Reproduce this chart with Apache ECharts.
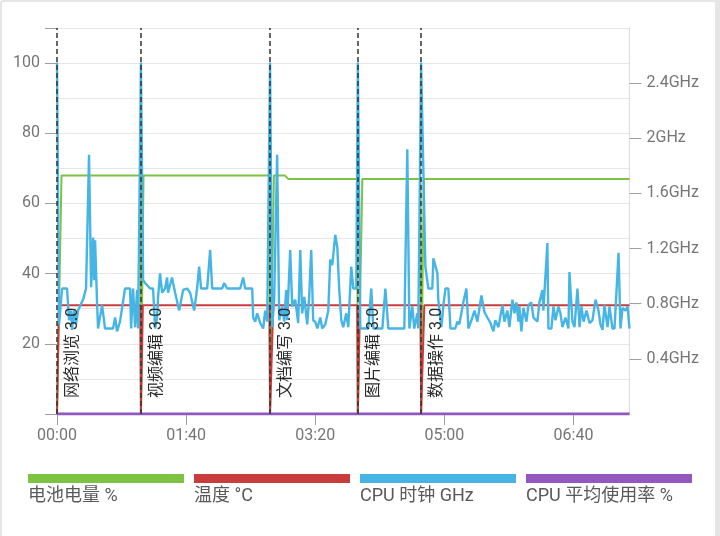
<!DOCTYPE html>
<html><head><meta charset="utf-8">
<script src="https://cdn.jsdelivr.net/npm/echarts@6/dist/echarts.min.js"></script>
<style>
html,body{margin:0;padding:0;background:#fff}
#c{position:absolute;left:0;top:0;width:720px;height:536px}
#f{position:absolute;left:0;top:0;width:720px;height:536px;box-sizing:border-box;border-left:2px solid #e6e6e6;border-top:2px solid #e6e6e6;border-right:5px solid #e6e6e6;border-top-left-radius:4px;pointer-events:none}
</style></head><body><div id="c"></div><div id="f"></div>
<script>
// ---- data ----
const seriesNames = ['电池电量 %', '温度 °C', 'CPU 时钟 GHz', 'CPU 平均使用率 %'];
const testNames = ['网络浏览', '视频编辑', '文档编写', '图片编辑', '数据操作'];
const testVersion = '3.0';
const testStarts = [0, 65, 165, 233, 282];
const xTickLabels = ['00:00', '01:40', '03:20', '05:00', '06:40'];
const leftTickLabels = [20, 40, 60, 80, 100];
const rightTickLabels = ['0.4GHz', '0.8GHz', '1.2GHz', '1.6GHz', '2GHz', '2.4GHz'];

const battery = [[0,0],[3.5,68],[64.5,68],[65,0],[67,68],[164.5,68],[165,0],[168,68],[176.5,68],[179,67],
  [232.5,67],[233,0],[236.5,67],[281.5,67],[282,0],[284,67],[443.4,67]];
const temperature = [[0,0],[1.5,31],[64.5,31],[65,0],[66.5,31],[164.5,31],[165,0],[167.5,31],
  [232.5,31],[233,0],[234.5,31],[281.5,31],[282,0],[284.5,31],[443.4,31]];
const cpuUsage = [[0,0],[443.4,0]];
const cpuClock = [
  [0,2.55],[1.6,0.65],[3.9,0.91],[7.8,0.91],[9.3,0.68],[10.9,0.75],[11.6,0.61],[13.2,0.75],[14.7,0.65],[16.3,0.75],
  [17.8,0.75],[20.2,0.83],[22.5,0.91],[24.8,1.88],[26.4,0.92],[27.9,1.28],[28.7,0.97],[29.5,1.26],[31,0.81],[31.8,0.62],
  [34.9,0.79],[37.2,0.62],[43.4,0.62],[45,0.70],[46.5,0.6],[48.8,0.67],[52.7,0.91],[56.6,0.91],[57.4,0.62],[58.9,0.91],
  [60.5,0.63],[62,0.9],[62.8,0.62],[64,0.62],
  [65,2.55],
  [66.7,0.97],[68.2,0.95],[72.1,0.91],[74.4,0.91],[76,0.62],[77.5,0.70],[78.3,0.85],[79.8,1.02],[81.4,0.88],[82.9,0.88],
  [83.7,0.91],[85.3,0.99],[86,0.88],[89.1,0.99],[89.9,0.95],[91.5,0.88],[94.6,0.75],[97.7,0.90],[100.8,0.91],[103.1,0.88],
  [106.2,0.75],[108.5,0.91],[110.1,1.07],[111.6,0.91],[116.3,0.91],[118.6,1.19],[120.2,0.91],[127.9,0.91],[129.5,0.95],
  [131.8,0.91],[141.9,0.91],[144.2,0.99],[145.7,0.91],[151.2,0.91],[151.9,0.70],[153.5,0.67],[155,0.73],[157.4,0.66],
  [159.7,0.62],[161.2,0.75],[162.8,0.67],
  [165,2.55],
  [166.7,0.63],[168.2,0.83],[170.5,1.88],[172.1,0.68],[174.4,0.78],[176,0.67],[177.5,0.90],[178.3,0.68],[180.6,1.19],
  [182.2,0.78],[184.5,0.83],[186.8,0.66],[188.4,1.19],[189.9,0.73],[191.5,0.85],[193.8,0.65],[195.3,0.85],[196.9,1.19],
  [198.4,0.68],[200,0.67],[201.6,0.62],[203.9,0.70],[205.4,0.62],[207.8,0.65],[210.1,0.75],[211.6,1.12],[213.2,1.08],
  [215.5,1.30],[217.1,1.21],[218.6,0.90],[220.2,0.68],[221.7,0.63],[224,0.73],[225.6,0.63],[227.9,1.07],[229.5,0.91],
  [231.8,0.91],
  [233,2.55],
  [234.9,0.62],[241.1,0.62],[243.4,0.91],[245,0.62],[252,0.62],[254.3,0.91],[256.6,0.62],[269,0.62],[271.3,1.92],
  [272.9,0.62],[275.2,0.78],[276.7,0.62],[279.1,0.73],[279.8,0.62],
  [282,2.55],[283.5,2.55],
  [285.3,1.07],[287.6,0.91],[290.7,0.91],[291.5,1.13],[294.6,1.02],[295.3,0.83],[297.7,0.63],[299.2,0.78],[300.8,0.91],
  [303.1,0.91],[304.7,0.62],[308.5,0.62],[310.1,0.67],[311.6,0.65],[314.7,0.81],[317.1,0.91],[318.6,0.62],[321.7,0.70],
  [323.3,0.75],[325.6,0.67],[328.7,0.86],[331,0.74],[333.3,0.70],[335.7,0.66],[338,0.60],[339.5,0.68],[341.9,0.63],
  [345,0.79],[346.5,0.67],[348.8,0.75],[350.4,0.63],[352.7,0.83],[354.3,0.73],[355.8,0.81],[357.4,0.67],[358.1,0.78],
  [359.7,0.60],[361.2,0.77],[363.6,0.67],[365.1,0.79],[367.4,0.81],[369,0.70],[372.1,0.67],[373.6,0.81],[376,0.90],
  [376.7,0.75],[379.8,1.24],[380.6,0.62],[382.9,0.62],[384.5,0.78],[386,0.68],[388.4,0.78],[389.9,0.73],[391.5,0.63],
  [393.8,0.70],[396.1,0.62],[396.9,1.03],[399.2,0.67],[400.8,0.63],[403.1,0.91],[404.7,0.63],[406.2,0.78],[407.8,0.67],
  [410.1,0.75],[412.4,0.66],[414.7,0.68],[417.1,0.83],[419.4,0.75],[420.9,0.65],[422.5,0.61],[424,0.79],[426.4,0.63],
  [427.9,0.78],[430.2,0.62],[431.8,0.62],[434.9,1.17],[436.4,0.62],[438,0.77],[440.3,0.75],[441.9,0.78],[443.4,0.62]
];

// ---- styling / layout ----
const FONT = 'Roboto, "Noto Sans CJK SC", sans-serif';
const colors = ['#7cc243', '#c93c3c', '#46b5e6', '#9357c0'];
const labelColor = '#757575';
const barLeft = [28, 194, 360, 526];
const barWidth = [156, 156, 156, 166];

const legends = [];
seriesNames.forEach((n, i) => {
  legends.push({
    data: [n], left: barLeft[i], top: 474, padding: 0, icon: 'rect',
    itemWidth: barWidth[i], itemHeight: 9, itemStyle: { borderWidth: 0 },
    formatter: () => '', textStyle: { fontSize: 1 }
  });
  legends.push({
    data: [n], left: barLeft[i] - 6, top: 488, padding: 0, icon: 'rect',
    itemWidth: 1, itemHeight: 1, itemStyle: { opacity: 0, borderWidth: 0 },
    textStyle: { fontSize: 18, color: '#595959', fontFamily: FONT }
  });
});

const chart = echarts.init(document.getElementById('c'), null, { renderer: 'canvas' });
chart.setOption({
  animation: false,
  backgroundColor: '#fff',
  textStyle: { fontFamily: FONT },
  color: colors,
  grid: { left: 57, right: 90.5, top: 28, bottom: 122, containLabel: false },
  legend: legends,
  xAxis: {
    type: 'value', min: 0, max: 443.4, interval: 100,
    axisLine: { show: true, lineStyle: { color: '#dddddd' } },
    axisTick: { show: true, length: 11, lineStyle: { color: '#a0a0a0' } },
    splitLine: { show: false },
    axisLabel: {
      showMaxLabel: false, color: labelColor, fontSize: 16, margin: 14, fontFamily: FONT,
      formatter: v => (v % 100 === 0 ? xTickLabels[v / 100] || '' : '')
    }
  },
  yAxis: [
    {
      type: 'value', position: 'left', min: 0, max: 110, interval: 10,
      axisLine: { show: false }, axisTick: { show: false },
      splitLine: { show: true, lineStyle: { color: '#e6e6e6', width: 1 } },
      axisLabel: {
        color: labelColor, fontSize: 16, margin: 17, fontFamily: FONT,
        formatter: v => (leftTickLabels.indexOf(v) >= 0 ? String(v) : '')
      }
    },
    {
      type: 'value', position: 'right', min: 0, max: 2.8, interval: 0.4,
      axisLine: { show: true, lineStyle: { color: '#dddddd' } },
      axisTick: { show: true, length: 12, lineStyle: { color: '#a0a0a0' } },
      splitLine: { show: false },
      axisLabel: {
        showMinLabel: false, showMaxLabel: false, color: labelColor, fontSize: 16, margin: 17, fontFamily: FONT,
        formatter: v => rightTickLabels[Math.round(v / 0.4) - 1] || ''
      }
    },
    {
      type: 'value', position: 'left', min: 0, max: 110, interval: 20,
      axisLine: { show: false },
      axisTick: { show: true, length: 12, lineStyle: { color: '#a0a0a0' } },
      axisLabel: { show: false }, splitLine: { show: false }
    }
  ],
  series: [
    {
      name: seriesNames[0], type: 'line', yAxisIndex: 0, data: battery, symbol: 'none',
      lineStyle: { width: 2, color: colors[0] }, itemStyle: { color: colors[0] },
      markLine: {
        silent: true, symbol: 'none', animation: false,
        lineStyle: { color: '#333', type: [5, 3], width: 1.5 },
        label: {
          show: true, position: 'insideStartBottom', distance: [16, 8],
          formatter: '{b}', color: '#2a2a2a', fontSize: 16, fontFamily: FONT
        },
        emphasis: { disabled: true },
        data: testStarts.map((t, i) => ({ xAxis: t, name: testNames[i] + ' ' + testVersion }))
      }
    },
    {
      name: seriesNames[1], type: 'line', yAxisIndex: 0, data: temperature, symbol: 'none',
      lineStyle: { width: 2, color: colors[1] }, itemStyle: { color: colors[1] }
    },
    {
      name: seriesNames[2], type: 'line', yAxisIndex: 1, data: cpuClock, symbol: 'none',
      lineStyle: { width: 2.4, color: colors[2] }, itemStyle: { color: colors[2] }
    },
    {
      name: seriesNames[3], type: 'line', yAxisIndex: 0, data: cpuUsage, symbol: 'none',
      lineStyle: { width: 3, color: colors[3] }, itemStyle: { color: colors[3] }
    }
  ]
});
</script></body></html>
